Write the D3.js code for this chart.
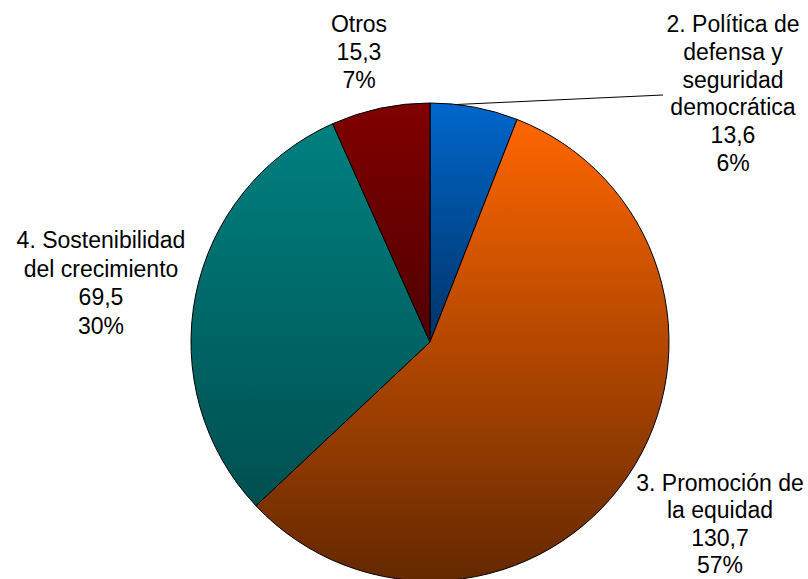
<!DOCTYPE html>
<html><head><meta charset="utf-8">
<script src="https://cdn.jsdelivr.net/npm/d3@7"></script>
<style>html,body{margin:0;padding:0;background:#fff;}svg{display:block;}</style>
</head><body>
<script>
const categories = ["2. Política de defensa y seguridad democrática", "3. Promoción de la equidad", "4. Sostenibilidad del crecimiento", "Otros"];
const labelLines = [["2. Política de","defensa y","seguridad","democrática"],["3. Promoción de","la equidad"],["4. Sostenibilidad","del crecimiento"],["Otros"]];
const values = [13.6, 130.7, 69.5, 15.3];
const valueLabels = ["13,6", "130,7", "69,5", "15,3"];
const colorsTop = ["#0066cc", "#ff6600", "#008080", "#800000"];
const colorsBottom = ["#003366", "#642800", "#004f4f", "#500000"];

const W = 808, H = 579, cx = 430, cy = 342, R = 239;
const svg = d3.select("body").append("svg").attr("width", W).attr("height", H);
const defs = svg.append("defs");
colorsTop.forEach((c, i) => {
  const g = defs.append("linearGradient").attr("id", "g" + i).attr("x1", 0).attr("y1", 0).attr("x2", 0).attr("y2", 1);
  g.append("stop").attr("offset", "0%").attr("stop-color", c);
  g.append("stop").attr("offset", "100%").attr("stop-color", colorsBottom[i]);
});

const pie = d3.pie().sort(null).value(d => d)(values);
const arc = d3.arc().innerRadius(0).outerRadius(R);
const total = d3.sum(values);
const g = svg.append("g").attr("transform", `translate(${cx},${cy})`);
g.selectAll("path").data(pie).join("path")
  .attr("d", arc).attr("fill", (d, i) => `url(#g${i})`)
  .attr("stroke", "#000").attr("stroke-width", 1);

// leader line for first slice
const a0 = pie[0].startAngle + (pie[0].endAngle - pie[0].startAngle) * 0.3;
const p0 = [cx + R * Math.sin(a0), cy - R * Math.cos(a0)];
svg.append("line").attr("x1", p0[0]).attr("y1", p0[1]).attr("x2", 663).attr("y2", 95)
  .attr("stroke", "#000").attr("stroke-width", 1);

// first-line baseline positions and line spacing per label
const labelPos = [[733, 32, 27.8], [720, 491, 27.4], [101, 248, 28.6], [359, 32, 28]];
const fmtPct = v => Math.round(v / total * 100) + "%";
values.forEach((v, i) => {
  const lines = labelLines[i].concat([valueLabels[i], fmtPct(v)]);
  const t = svg.append("text").attr("text-anchor", "middle")
    .attr("font-family", "Liberation Sans, Arial, sans-serif").attr("font-size", 23).attr("fill", "#000");
  lines.forEach((s, k) => {
    t.append("tspan").attr("x", labelPos[i][0]).attr("y", labelPos[i][1] + k * labelPos[i][2]).text(s);
  });
});
</script>
</body></html>
